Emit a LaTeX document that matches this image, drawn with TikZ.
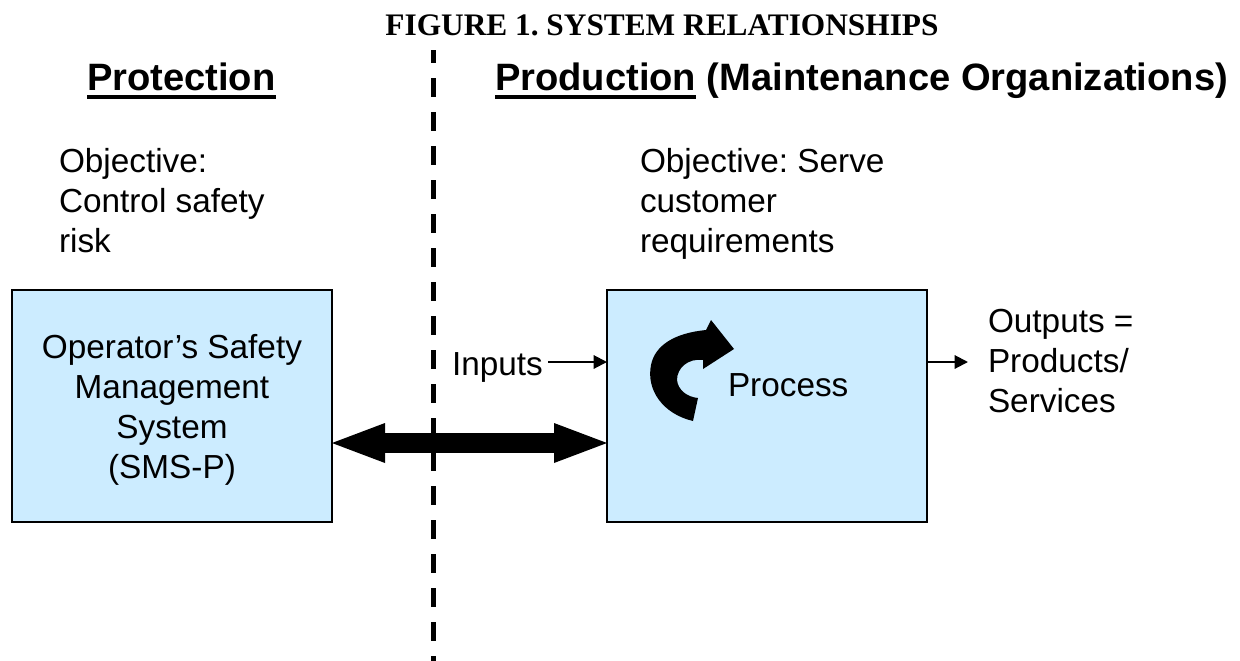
\documentclass[tikz,border=0pt]{standalone}
\usepackage{fontspec}
\setmainfont{Liberation Sans}
\newfontfamily\titlefont{Liberation Serif}
\usetikzlibrary{arrows.meta}
\definecolor{boxblue}{HTML}{CCECFF}
\newcommand\mylines[2][l]{\begin{tabular}[t]{@{}#1@{}}#2\end{tabular}}
\frenchspacing
\begin{document}
\begin{tikzpicture}[x=0.75pt,y=-0.75pt,
  body/.style={font=\fontsize{25}{30}\selectfont, inner sep=0pt, outer sep=0pt},
  head/.style={font=\fontsize{28.6}{34}\selectfont\bfseries, inner sep=0pt, outer sep=0pt},
  bluebox/.style={draw=black, line width=1pt, fill=boxblue, minimum width=240pt, minimum height=174pt, inner sep=0pt, outer sep=0pt},
  thin arrow/.style={-{Triangle[length=10pt,width=10pt]}, line width=1.5pt},
  big arrow/.style={{Triangle[length=39.75pt,width=30pt,line width=0pt]}-{Triangle[length=39.75pt,width=30pt,line width=0pt]}, line width=15pt},
  divider/.style={line width=3.75pt, dash pattern=on 14.25pt off 11.25pt, dash phase=4.5pt},
  uline/.style={line width=3pt}]
\useasboundingbox (0,0) rectangle (1240,661);
\fill[white] (0,0) rectangle (1240,661);

% title
\node[font=\titlefont\bfseries\fontsize{23.5}{28}\selectfont, anchor=base, inner sep=0pt] (title) at (662,35) {FIGURE 1. SYSTEM RELATIONSHIPS};

% headings
\node[head, anchor=base west] (hprot) at (87,90) {Protection};
\node[head, anchor=base west] (hprod) at (495,90) {Production};
\node[head, anchor=base west] (hmaint) at ([xshift=7.95pt]hprod.base east) {(Maintenance Organizations)};
\draw[uline] ([yshift=-5.25pt]hprot.base west) -- ([yshift=-5.25pt]hprot.base east);
\draw[uline] ([yshift=-5.25pt]hprod.base west) -- ([yshift=-5.25pt]hprod.base east);

% objectives
\node[body, anchor=base west] (objL) at (59,172) {\mylines{Objective:\\Control safety\\risk}};
\node[body, anchor=base west] (objR) at (640,172) {\mylines{Objective: Serve\\customer\\requirements}};

% boxes
\node[bluebox] (sms) at (172,406) {};
\node[body, anchor=base] (smstext) at (172,358) {\mylines[c]{Operator’s Safety\\Management\\System\\(SMS-P)}};
\node[bluebox] (proc) at (767,406) {};
\node[body, anchor=base west] (ptext) at (728,396) {Process};

% curved arrow in the process box
\fill[black] (693,421) .. controls (663,414) and (646,390) .. (651,365)
  .. controls (655,345) and (675,333) .. (706,330) -- (711,320) -- (734,349) -- (703,369) -- (703,360)
  .. controls (688,358) and (677,368) .. (677,380)
  .. controls (678,390) and (687,397) .. (698,398) -- cycle;

% inputs / outputs
\node[body, anchor=base west] (inputs) at (452,375) {Inputs};
\coordinate (inA) at (548,362);
\draw[thin arrow] (inA) -- (inA -| proc.west);
\coordinate (outB) at (968,362);
\draw[thin arrow] (outB -| proc.east) -- (outB);
\node[body, anchor=base west] (outputs) at (988,332) {\mylines{Outputs =\\Products/\\Services}};

% divider
\draw[divider] (433,50) -- (433,661);

% double arrow
\draw[big arrow] ([yshift=-27.75pt]sms.east) -- ([yshift=-27.75pt]proc.west);
\end{tikzpicture}
\end{document}
